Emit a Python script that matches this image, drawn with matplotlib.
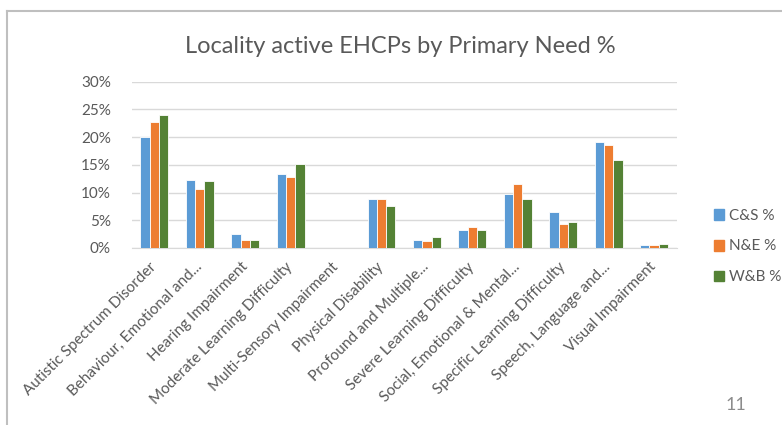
import matplotlib.pyplot as plt
import numpy as np
from matplotlib.ticker import PercentFormatter
from matplotlib.patches import Rectangle
from matplotlib.lines import Line2D

plt.rcParams['font.family'] = ['Lato', 'DejaVu Sans']

needs = ["Autistic Spectrum Disorder", "Behaviour, Emotional and...",
         "Hearing Impairment", "Moderate Learning Difficulty",
         "Multi-Sensory Impairment", "Physical Disability",
         "Profound and Multiple...", "Severe Learning Difficulty",
         "Social, Emotional & Mental...", "Specific Learning Difficulty",
         "Speech, Language and...", "Visual Impairment"]
series_names = ["C&S %", "N&E %", "W&B %"]
cs = [20.0, 12.2, 2.5, 13.3, 0.0, 8.8, 1.4, 3.2, 9.8, 6.5, 19.1, 0.5]
ne = [22.8, 10.7, 1.4, 12.8, 0.0, 8.8, 1.3, 3.7, 11.5, 4.4, 18.5, 0.5]
wb = [23.9, 12.1, 1.4, 15.2, 0.0, 7.6, 2.0, 3.3, 8.9, 4.6, 15.9, 0.8]
colors = ['#5B9BD5', '#ED7D31', '#548235']

fig = plt.figure(figsize=(7.82, 4.25), dpi=100)
ax = fig.add_axes([0.1684, 0.4165, 0.697, 0.3913])

x = np.arange(len(needs))
w = 0.205
for i, vals in enumerate([cs, ne, wb]):
    ax.bar(x + (i - 1) * w, np.array(vals) / 100, width=w, color=colors[i],
           edgecolor='white', linewidth=0.6, label=series_names[i], zorder=3)

ax.set_xlim(-0.5, len(needs) - 0.5)
ax.set_ylim(0, 0.30)
ax.set_yticks(np.arange(0, 0.31, 0.05))
ax.yaxis.set_major_formatter(PercentFormatter(1.0, decimals=0))
ax.grid(axis='y', color='#D9D9D9', linewidth=1, zorder=0)
for s in ['top', 'right', 'left']:
    ax.spines[s].set_visible(False)
ax.spines['bottom'].set_color('#D9D9D9')
ax.tick_params(axis='both', length=0, colors='#595959', labelsize=11)
ax.tick_params(axis='y', pad=15)
ax.set_xticks(x)
ax.set_xticklabels(needs, rotation=45, ha='right', va='center',
                   rotation_mode='anchor')
ax.tick_params(axis='x', pad=12)

fig.text(0.512, 0.891, "Locality active EHCPs by Primary Need %", ha='center',
         va='center', fontsize=17, color='#595959')

handles = [Rectangle((0, 0), 1, 1, color=c) for c in colors]
fig.legend(handles, series_names, loc='center left', bbox_to_anchor=(0.895, 0.42),
           frameon=False, fontsize=11, labelcolor='#595959', handlelength=0.7,
           handleheight=0.7, handletextpad=0.3, labelspacing=1.1)

fig.text(0.941, 0.047, "11", ha='center', va='center', fontsize=13, color='#8C8C8C')

# slide frame
fig.add_artist(Line2D([0.009, 0.009], [0, 0.974], transform=fig.transFigure,
                      color='#BFBFBF', linewidth=1.5))
fig.add_artist(Line2D([0.009, 1], [0.974, 0.974], transform=fig.transFigure,
                      color='#BFBFBF', linewidth=1.5))

fig.savefig('out.png', dpi=100)
